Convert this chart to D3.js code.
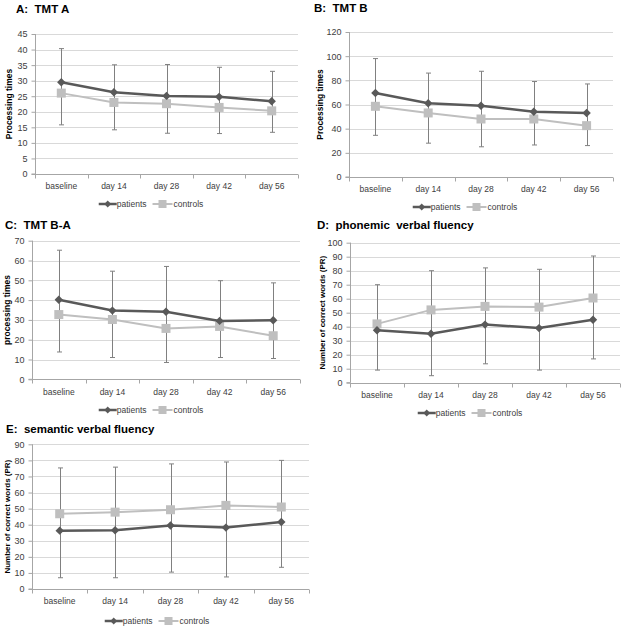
<!DOCTYPE html>
<html><head><meta charset="utf-8">
<script src="https://cdn.jsdelivr.net/npm/d3@7"></script>
<style>
html,body{margin:0;padding:0;background:#fff;}
svg{display:block;}
text{white-space:pre;}
.tick text{font-family:"Liberation Sans",Arial,sans-serif;font-size:8.5px;fill:#404040;}
.yax .tick text{font-size:9px;}
</style></head>
<body>
<svg id="chart" width="625" height="629"></svg>
<script>
// ---------- data ----------
const categories = ["baseline", "day 14", "day 28", "day 42", "day 56"];
const seriesNames = ["patients", "controls"];

const tmtA_ticks = [0, 5, 10, 15, 20, 25, 30, 35, 40, 45];
const tmtA_patients = [29.5, 26.3, 25.1, 24.8, 23.4];
const tmtA_controls = [26.0, 23.0, 22.6, 21.4, 20.3];
const tmtA_errTop = [40.3, 35.1, 35.2, 34.3, 33.0];
const tmtA_errBottom = [15.8, 14.2, 13.1, 13.0, 13.4];

const tmtB_ticks = [0, 20, 40, 60, 80, 100, 120];
const tmtB_patients = [69.5, 61.0, 59.0, 54.0, 53.0];
const tmtB_controls = [58.5, 53.0, 48.0, 48.0, 42.5];
const tmtB_errTop = [98.0, 86.0, 87.5, 79.0, 77.0];
const tmtB_errBottom = [34.5, 28.0, 25.0, 26.5, 26.0];

const tmtBA_ticks = [0, 10, 20, 30, 40, 50, 60, 70];
const tmtBA_patients = [40.2, 34.7, 34.1, 29.5, 29.8];
const tmtBA_controls = [32.7, 30.2, 25.7, 26.7, 22.0];
const tmtBA_errTop = [65.2, 54.6, 57.0, 49.8, 48.7];
const tmtBA_errBottom = [13.8, 11.0, 8.5, 11.0, 10.5];

const phon_ticks = [0, 10, 20, 30, 40, 50, 60, 70, 80, 90, 100];
const phon_patients = [37.5, 35.0, 41.5, 39.0, 45.0];
const phon_controls = [42.0, 52.0, 54.5, 54.0, 60.5];
const phon_errTop = [70.0, 80.0, 82.0, 81.0, 90.5];
const phon_errBottom = [9.0, 5.0, 13.5, 9.0, 17.0];

const sem_ticks = [0, 10, 20, 30, 40, 50, 60, 70, 80, 90];
const sem_patients = [36.3, 36.5, 39.5, 38.2, 41.7];
const sem_controls = [46.8, 47.8, 49.3, 52.0, 51.0];
const sem_errTop = [75.3, 75.8, 77.8, 79.0, 80.0];
const sem_errBottom = [7.0, 7.0, 10.5, 7.5, 13.5];

// ---------- layout ----------
const panels = [
  {title: "A:  TMT A", yLabel: "Processing times", ticks: tmtA_ticks, p: tmtA_patients, c: tmtA_controls, top: tmtA_errTop, bot: tmtA_errBottom,
   x0: 35, x1: 298, yT: 34, yB: 174, tx: 16, ty: 13, lx: 9, lfs: 8.5, xly: 185.5, legY: 204, legCx: 151},
  {title: "B:  TMT B", yLabel: "Processing times", ticks: tmtB_ticks, p: tmtB_patients, c: tmtB_controls, top: tmtB_errTop, bot: tmtB_errBottom,
   x0: 349, x1: 613, yT: 32, yB: 177, tx: 314, ty: 12, lx: 320, lfs: 8.5, xly: 189, legY: 207, legCx: 465},
  {title: "C:  TMT B-A", yLabel: "processing times", ticks: tmtBA_ticks, p: tmtBA_patients, c: tmtBA_controls, top: tmtBA_errTop, bot: tmtBA_errBottom,
   x0: 32, x1: 300, yT: 240.7, yB: 379.3, tx: 5, ty: 229, lx: 7, lfs: 8.5, xly: 392, legY: 410, legCx: 151},
  {title: "D:  phonemic  verbal fluency", yLabel: "Number of correct words (PR)", ticks: phon_ticks, p: phon_patients, c: phon_controls, top: phon_errTop, bot: phon_errBottom,
   x0: 350, x1: 620, yT: 242.7, yB: 382.7, tx: 317, ty: 229, lx: 322, lfs: 8, xly: 394, legY: 413, legCx: 470},
  {title: "E:  semantic verbal fluency", yLabel: "Number of correct words (PR)", ticks: sem_ticks, p: sem_patients, c: sem_controls, top: sem_errTop, bot: sem_errBottom,
   x0: 32, x1: 309, yT: 444.3, yB: 589, tx: 6, ty: 433, lx: 7, lfs: 8, xly: 601, legY: 621, legCx: 157}
];

const colP = "#595959", colC = "#bfbfbf", colErr = "#808080", colGrid = "#d9d9d9", colAxis = "#a6a6a6";
const sans = '"Liberation Sans",Arial,sans-serif';

const svg = d3.select("#chart");

panels.forEach(cfg => {
  const g = svg.append("g");
  const x = d3.scaleBand().domain(categories).range([cfg.x0, cfg.x1]);
  const y = d3.scaleLinear().domain([0, d3.max(cfg.ticks)]).range([cfg.yB, cfg.yT]);
  const cx = d => x(d) + x.bandwidth() / 2;

  // gridlines
  g.append("g").selectAll("line").data(cfg.ticks.filter(t => t > 0)).join("line")
    .attr("x1", cfg.x0).attr("x2", cfg.x1)
    .attr("y1", d => Math.round(y(d)) + 0.5).attr("y2", d => Math.round(y(d)) + 0.5)
    .attr("stroke", colGrid).attr("stroke-width", 1);

  // y axis
  const ya = g.append("g").attr("class", "yax").attr("transform", `translate(${Math.round(cfg.x0) + 0.5},0)`)
    .call(d3.axisLeft(y).tickValues(cfg.ticks).tickSize(4).tickPadding(4).tickFormat(d3.format("d")));
  ya.select(".domain").attr("stroke", colAxis).attr("d", `M-4,${y(0)}H0V${y(d3.max(cfg.ticks))}`);
  ya.selectAll(".tick line").attr("stroke", colAxis);

  // x axis
  const xa = g.append("g").attr("transform", `translate(0,${Math.round(cfg.yB) + 0.5})`)
    .call(d3.axisBottom(x).tickSize(0).tickPadding(0));
  xa.select(".domain").attr("stroke", colAxis).attr("d", `M${cfg.x0},0H${cfg.x1}`);
  xa.selectAll(".tick text").attr("y", cfg.xly - cfg.yB).attr("dy", "0.32em");
  const bounds = categories.map(c => x(c)).concat([cfg.x1]);
  xa.append("g").selectAll("line").data(bounds).join("line")
    .attr("x1", d => Math.round(d) + 0.5).attr("x2", d => Math.round(d) + 0.5)
    .attr("y1", 0).attr("y2", 4).attr("stroke", colAxis);

  // error bars
  const eb = g.append("g").attr("stroke", colErr).attr("stroke-width", 1);
  categories.forEach((c, i) => {
    const xx = Math.round(cx(c)) + 0.5;
    eb.append("line").attr("x1", xx).attr("x2", xx).attr("y1", y(cfg.top[i])).attr("y2", y(cfg.bot[i]));
    eb.append("line").attr("x1", xx - 2.5).attr("x2", xx + 2.5).attr("y1", y(cfg.top[i])).attr("y2", y(cfg.top[i]));
    eb.append("line").attr("x1", xx - 2.5).attr("x2", xx + 2.5).attr("y1", y(cfg.bot[i])).attr("y2", y(cfg.bot[i]));
  });

  const line = d3.line().x((d, i) => cx(categories[i])).y(d => y(d));

  // controls
  g.append("path").datum(cfg.c).attr("d", line).attr("fill", "none").attr("stroke", colC).attr("stroke-width", 2);
  g.append("g").selectAll("rect").data(cfg.c).join("rect")
    .attr("x", (d, i) => cx(categories[i]) - 4.5).attr("y", d => y(d) - 4.5)
    .attr("width", 9).attr("height", 9).attr("fill", colC);

  // patients
  g.append("path").datum(cfg.p).attr("d", line).attr("fill", "none").attr("stroke", colP).attr("stroke-width", 2.5);
  const diamond = d3.symbol().type(d3.symbolDiamond2).size(45);
  g.append("g").selectAll("path").data(cfg.p).join("path")
    .attr("d", diamond).attr("transform", (d, i) => `translate(${cx(categories[i])},${y(d)})`)
    .attr("fill", colP);

  // title
  g.append("text").attr("x", cfg.tx).attr("y", cfg.ty).attr("xml:space", "preserve").text(cfg.title)
    .attr("font-family", sans).attr("font-weight", "bold").attr("font-size", 11.5).attr("fill", "#000");

  // y label
  g.append("text").attr("transform", `translate(${cfg.lx},${(cfg.yT + cfg.yB) / 2}) rotate(-90)`)
    .attr("text-anchor", "middle").attr("dy", "0.35em").text(cfg.yLabel)
    .attr("font-family", sans).attr("font-weight", "bold").attr("font-size", cfg.lfs).attr("fill", "#000");

  // legend
  const lg = g.append("g");
  lg.append("line").attr("x1", 0).attr("x2", 18).attr("stroke", colP).attr("stroke-width", 2.5);
  lg.append("path").attr("d", d3.symbol().type(d3.symbolDiamond2).size(30)).attr("transform", "translate(9,0)").attr("fill", colP);
  const t1 = lg.append("text").attr("x", 18).attr("dy", "0.32em").text(seriesNames[0])
    .attr("font-family", sans).attr("font-size", 8.5).attr("fill", "#404040");
  const w1 = t1.node().getComputedTextLength();
  const s2 = 18 + w1 + 6;
  lg.append("line").attr("x1", s2).attr("x2", s2 + 20).attr("stroke", colC).attr("stroke-width", 2);
  lg.append("rect").attr("x", s2 + 6).attr("y", -4).attr("width", 8).attr("height", 8).attr("fill", colC);
  const t2 = lg.append("text").attr("x", s2 + 21).attr("dy", "0.32em").text(seriesNames[1])
    .attr("font-family", sans).attr("font-size", 8.5).attr("fill", "#404040");
  const total = s2 + 21 + t2.node().getComputedTextLength();
  lg.attr("transform", `translate(${cfg.legCx - total / 2},${cfg.legY})`);
});
</script>
</body></html>
